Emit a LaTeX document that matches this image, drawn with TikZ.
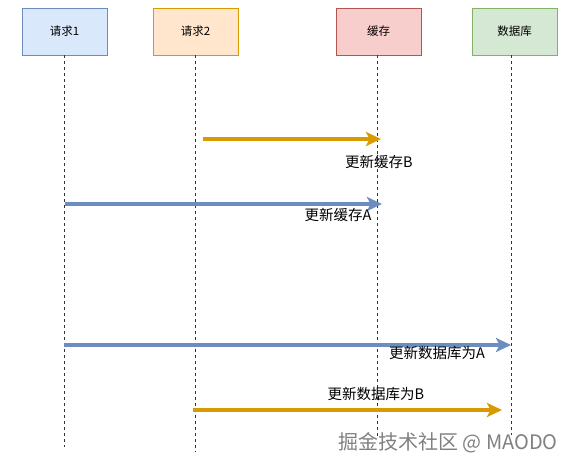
\documentclass[tikz,border=0pt]{standalone}
\usepackage{fontspec}
\setmainfont{Noto Sans CJK SC}
\usepackage{tikz}
\usetikzlibrary{arrows.meta,positioning}
\definecolor{reqonefill}{HTML}{DAE8FC}
\definecolor{reqoneline}{HTML}{6C8EBF}
\definecolor{reqtwofill}{HTML}{FFE6CC}
\definecolor{reqtwoline}{HTML}{D79B00}
\definecolor{cachefill}{HTML}{F8CECC}
\definecolor{cacheline}{HTML}{B85450}
\definecolor{dbfill}{HTML}{D5E8D4}
\definecolor{dbline}{HTML}{82B366}

\begin{document}
\begin{tikzpicture}[
x=1pt,y=-1pt,
every node/.style={font=\fontsize{11.5}{13}\selectfont},
actor/.style={draw,thick,minimum width=85pt,minimum height=47pt,inner sep=0pt},
life/.style={thin,draw=black!80,dash pattern=on 3pt off 3pt},
msga/.style={-{Stealth[length=15pt,width=14pt,inset=3.5pt]},line width=3.2pt,draw=reqoneline},
msgb/.style={-{Stealth[length=15pt,width=14pt,inset=3.5pt]},line width=3.2pt,draw=reqtwoline},
lbl/.style={font=\fontsize{14.5}{16}\selectfont,inner sep=0pt}
]
\useasboundingbox (0,0) rectangle (574,469);

% actors
\node[actor,fill=reqonefill,draw=reqoneline] (req1) at (64.5,31.5) {请求1};
\node[actor,fill=reqtwofill,draw=reqtwoline] (req2) at (195.5,31.5) {请求2};
\node[actor,fill=cachefill,draw=cacheline] (cache) at (378.5,31.5) {缓存};
\node[actor,fill=dbfill,draw=dbline] (db) at (514.5,31.5) {数据库};

% lifelines
\coordinate (req1end) at (64,447);
\coordinate (req2end) at (195,452);
\coordinate (cacheend) at (377,437);
\coordinate (dbend) at (511,435);
\draw[life] (64,55) -- (req1end);
\draw[life] (195,55) -- (req2end);
\draw[life] (377,55) -- (cacheend);
\draw[life] (511,55) -- (dbend);

% messages
\coordinate (m1s) at (203,139);
\coordinate (m1e) at (381,139);
\coordinate (m2s) at (65,204);
\coordinate (m2e) at (382,204);
\coordinate (m3s) at (64,345);
\coordinate (m3e) at (511,345);
\coordinate (m4s) at (193,410);
\coordinate (m4e) at (502,410);
\draw[msgb] (m1s) -- (m1e);
\draw[msga] (m2s) -- (m2e);
\draw[msga] (m3s) -- (m3e);
\draw[msgb] (m4s) -- (m4e);

\node[lbl] (t1) at (379,162) {更新缓存B};
\node[lbl] (t2) at (338,215) {更新缓存A};
\node[lbl] (t3) at (437,353) {更新数据库为A};
\node[lbl] (t4) at (376,394) {更新数据库为B};

% watermark
\node[font=\fontsize{20}{22}\selectfont,text=black!50,inner sep=0pt] (mark) at (448,443) {掘金技术社区 @ MAODO};
\end{tikzpicture}
\end{document}
